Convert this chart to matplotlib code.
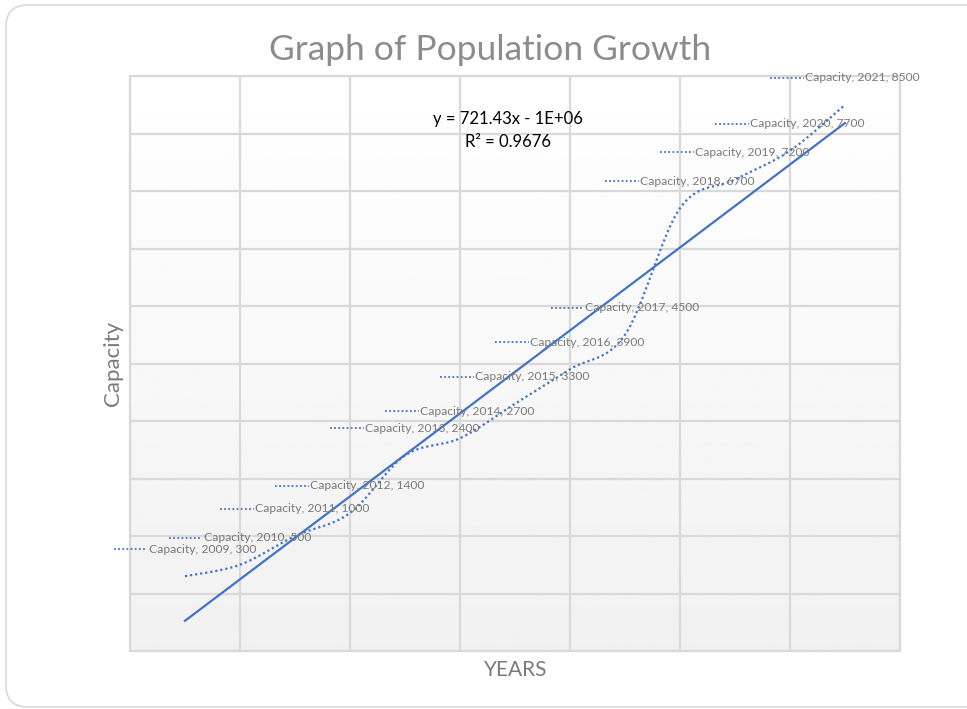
import matplotlib
matplotlib.use("Agg")
import matplotlib.pyplot as plt
import numpy as np
from matplotlib.patches import FancyBboxPatch
from matplotlib.lines import Line2D
from matplotlib.offsetbox import AnnotationBbox, DrawingArea, TextArea, HPacker

# Data
years = [2009, 2010, 2011, 2012, 2013, 2014, 2015, 2016, 2017, 2018, 2019, 2020, 2021]
capacity = [300, 500, 1000, 1400, 2400, 2700, 3300, 3900, 4500, 6700, 7200, 7700, 8500]
series_name = "Capacity"

BLUE = "#4472C4"
GRID = "#d9d9d9"
TXT = "#7a7a7a"
FONT = "Lato"

plt.rcParams["font.family"] = [FONT, "DejaVu Sans"]

fig = plt.figure(figsize=(9.67, 7.09), dpi=100)

# rounded chart border (pixel coords)
border = FancyBboxPatch((6, 2), 990, 702, boxstyle="round,pad=0,rounding_size=22",
                        transform=None, ec=GRID, fc="white", lw=1.2, zorder=-10)
fig.patches.append(border)

ax = fig.add_axes([130 / 967, 1 - 651 / 709, 770 / 967, 575 / 709])
ax.set_xlim(2008, 2022)
ax.set_ylim(-1000, 9000)
ax.set_xticks(np.arange(2008, 2023, 2))
ax.set_yticks(np.arange(-1000, 9001, 1000))
ax.tick_params(length=0, labelbottom=False, labelleft=False)
ax.grid(True, color=GRID, lw=1.6)
for s in ax.spines.values():
    s.set_color(GRID)
    s.set_linewidth(1.6)
ax.set_facecolor("none")

# gradient background of plot area
grad = np.linspace(1.0, 0.945, 256).reshape(-1, 1)
ax.imshow(grad, extent=[0, 1, 0, 1], transform=ax.transAxes, cmap="gray",
          vmin=0, vmax=1, aspect="auto", zorder=-5)

# smoothed line (Catmull-Rom like Excel smoothing)
x = np.array(years, dtype=float)
y = np.array(capacity, dtype=float)
px = np.concatenate([[x[0]], x, [x[-1]]])
py = np.concatenate([[y[0]], y, [y[-1]]])
sx, sy = [], []
t = np.linspace(0, 1, 30)
for i in range(1, len(px) - 2):
    p0, p1, p2, p3 = [np.array([px[j], py[j]]) for j in (i - 1, i, i + 1, i + 2)]
    c1 = p1 + (p2 - p0) / 6
    c2 = p2 - (p3 - p1) / 6
    b = ((1 - t) ** 3)[:, None] * p1 + (3 * (1 - t) ** 2 * t)[:, None] * c1 \
        + (3 * (1 - t) * t ** 2)[:, None] * c2 + (t ** 3)[:, None] * p2
    sx.extend(b[:, 0])
    sy.extend(b[:, 1])
ax.plot(sx, sy, color=BLUE, lw=1.6, linestyle=(0, (1, 1.3)), zorder=3)

# linear trendline
slope, intercept = np.polyfit(x, y, 1)
ax.plot([x[0], x[-1]], [slope * x[0] + intercept, slope * x[-1] + intercept],
        color=BLUE, lw=1.6, zorder=4)
r2 = np.corrcoef(x, y)[0, 1] ** 2
ax.text(2014.87, 8050, f"y = {slope:.2f}x - 1E+06\nR\u00b2 = {r2:.4f}", ha="center", va="center",
        fontsize=12, color="black", linespacing=1.5, zorder=6)

# data labels with legend key
for xi, yi in zip(years, capacity):
    da = DrawingArea(24, 8, 0, 0)
    da.add_artist(Line2D([0, 24], [4, 4], color=BLUE, lw=1.3, linestyle=(0, (1, 1.3))))
    ta = TextArea(f"{series_name}, {xi}, {yi}", textprops=dict(color=TXT, fontsize=8.7, family=FONT))
    box = HPacker(children=[da, ta], align="center", pad=0, sep=1)
    ab = AnnotationBbox(box, (xi, yi), xybox=(0, 19.5), xycoords="data", boxcoords="offset points",
                        frameon=False, box_alignment=(0.5, 0.5), zorder=7, annotation_clip=False)
    ax.add_artist(ab)

fig.text(490 / 967, 1 - 50 / 709, "Graph of Population Growth", ha="center", va="center",
         fontsize=25.5, color="#8c8c8c")
fig.text(516 / 967, 1 - 670 / 709, "YEARS", ha="center", va="center", fontsize=15, color=TXT)
fig.text(113 / 967, 1 - 363 / 709, "Capacity", ha="center", va="center", rotation=90,
         fontsize=16, color=TXT)

fig.savefig("out.png", dpi=100)
